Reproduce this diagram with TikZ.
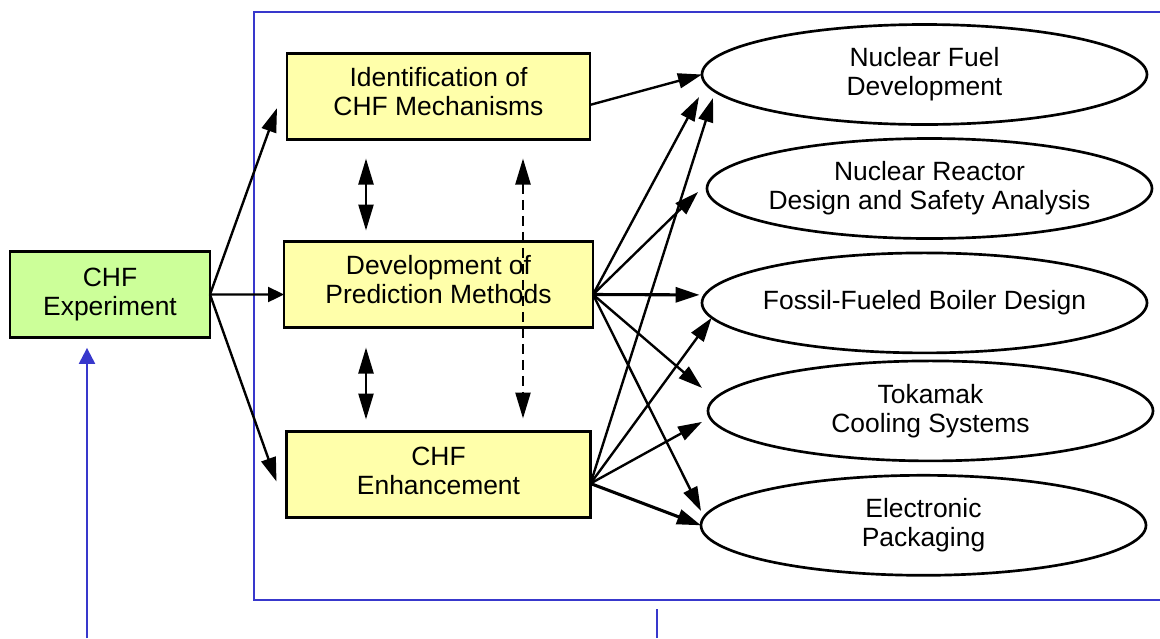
\documentclass[tikz,border=0pt]{standalone}
\usepackage{fontspec}
\setmainfont{Liberation Sans}
\usetikzlibrary{positioning,shapes.geometric,arrows.meta}
\definecolor{expgreen}{RGB}{204,255,153}
\definecolor{boxyellow}{RGB}{255,255,170}
\definecolor{frameblue}{RGB}{56,56,204}
\begin{document}
\begin{tikzpicture}[node distance={2.55cm}, line width=1.7pt,
    txt/.style = {font=\fontsize{18.8pt}{20.8pt}\selectfont, align=center},
    main/.style = {txt, draw, line width=2pt, outer sep=0pt, inner sep=0pt, minimum height=2.15cm},
    app/.style = {txt, draw, ellipse, line width=1.9pt, outer sep=0pt, inner xsep=-0.15cm, inner ysep=0pt, minimum width=11.125cm, minimum height=2.5cm},
    arr/.style = {-{Triangle[length=0.6cm,width=0.375cm]}},
    heavy/.style = {line width=2.2pt},
    dbl/.style = {{Triangle[length=0.65cm,width=0.375cm]}-{Triangle[length=0.65cm,width=0.375cm]}},
    fb/.style = {frameblue, line width=1.6pt}]
    \clip (0,0) rectangle (29,-15.95);
    % frame round the research areas
    \draw[fb] (6.35,-0.3) rectangle (29.5,-15);
    \node[main, fill=expgreen, minimum width=5cm] (exp) at (2.75,-7.3625) {CHF\\Experiment};
    \node[main, fill=boxyellow, minimum width=7.575cm] (ident) at (10.9625,-2.4125) {Identification of\\CHF Mechanisms\\[-0.48cm]};
    \node[main, fill=boxyellow, minimum width=7.725cm] (dev) [below=of ident] {Development of\\Prediction Methods\\[-0.48cm]};
    \node[main, fill=boxyellow, minimum width=7.6cm] (enh) [below=2.6cm of dev] {CHF\\Enhancement\\[-0.55cm]};
    % applications
    \node[app] (fuel) at (23.1125,-1.8625) {Nuclear Fuel\\Development};
    \node[app] (reactor) [below=0.35cm of fuel, xshift=0.125cm] {Nuclear Reactor\\Design and Safety Analysis};
    \node[app] (boiler) [below=0.36cm of reactor, xshift=-0.125cm] {Fossil-Fueled Boiler Design};
    \node[app] (tokamak) [below=0.2cm of boiler, xshift=0.15cm] {Tokamak\\Cooling Systems};
    \node[app] (elec) [below=0.36cm of tokamak, xshift=-0.175cm] {Electronic\\Packaging};
    \coordinate (devout) at ([yshift=-0.25cm]dev.east);
    \coordinate (enhout) at ([yshift=-0.225cm]enh.east);
    % experiment feeds the three studies
    \draw[arr] (exp.east) -- ([xshift=-0.25cm,yshift=-0.29cm]ident.west);
    \draw[-{Triangle[length=0.4cm,width=0.375cm]}] (exp.east) -- ([yshift=-0.25cm]dev.west);
    \draw[arr] (exp.east) -- ([xshift=-0.25cm,yshift=-0.175cm]enh.west);
    % links between the studies
    \draw[dbl, shorten <=0.475cm, shorten >=0.275cm] ([xshift=-1.8125cm]ident.south) -- ([xshift=-1.8125cm]ident.south |- dev.north);
    \draw[dbl, shorten <=0.5cm, shorten >=0.3cm] ([xshift=-1.8125cm]ident.south |- dev.south) -- ([xshift=-1.8125cm]ident.south |- enh.north);
    \draw[dbl, dash pattern=on 0.25cm off 0.15cm, shorten <=0.475cm, shorten >=0.325cm] ([xshift=2.1125cm]ident.south) -- ([xshift=2.1125cm]ident.south |- enh.north);
    % studies to applications
    \draw[arr] ([yshift=-0.21cm]ident.east) -- (fuel.west);
    \draw[arr] (devout) -- ([xshift=-0.075cm,yshift=-0.5625cm]fuel.west);
    \draw[arr] (devout) -- ([xshift=-0.225cm,yshift=-0.0875cm]reactor.west);
    \draw[arr, heavy] (devout) -- ([xshift=-0.06cm,yshift=0.2cm]boiler.west);
    \draw[arr] (devout) -- ([xshift=-0.15cm,yshift=0.575cm]tokamak.west);
    \draw[arr] (devout) -- ([yshift=0.36cm]elec.west);
    \draw[arr] (enhout) -- ([xshift=0.275cm,yshift=-0.5875cm]fuel.west);
    \draw[arr] (enhout) -- ([xshift=0.24cm,yshift=-0.375cm]boiler.west);
    \draw[arr] (enhout) -- ([xshift=-0.15cm,yshift=-0.275cm]tokamak.west);
    \draw[arr, heavy] (enhout) -- (elec.west);
    % feedback ends
    \coordinate (fbin) at (2.175,-15.95);
    \coordinate (fbtop) at (16.425,-15.225);
    \coordinate (fbbot) at (16.425,-15.95);
    \draw[fb, -{Triangle[length=0.4cm,width=0.4cm]}, shorten >=0.26cm] (fbin) -- (fbin |- exp.south);
    \draw[fb] (fbtop) -- (fbbot);
\end{tikzpicture}
\end{document}
